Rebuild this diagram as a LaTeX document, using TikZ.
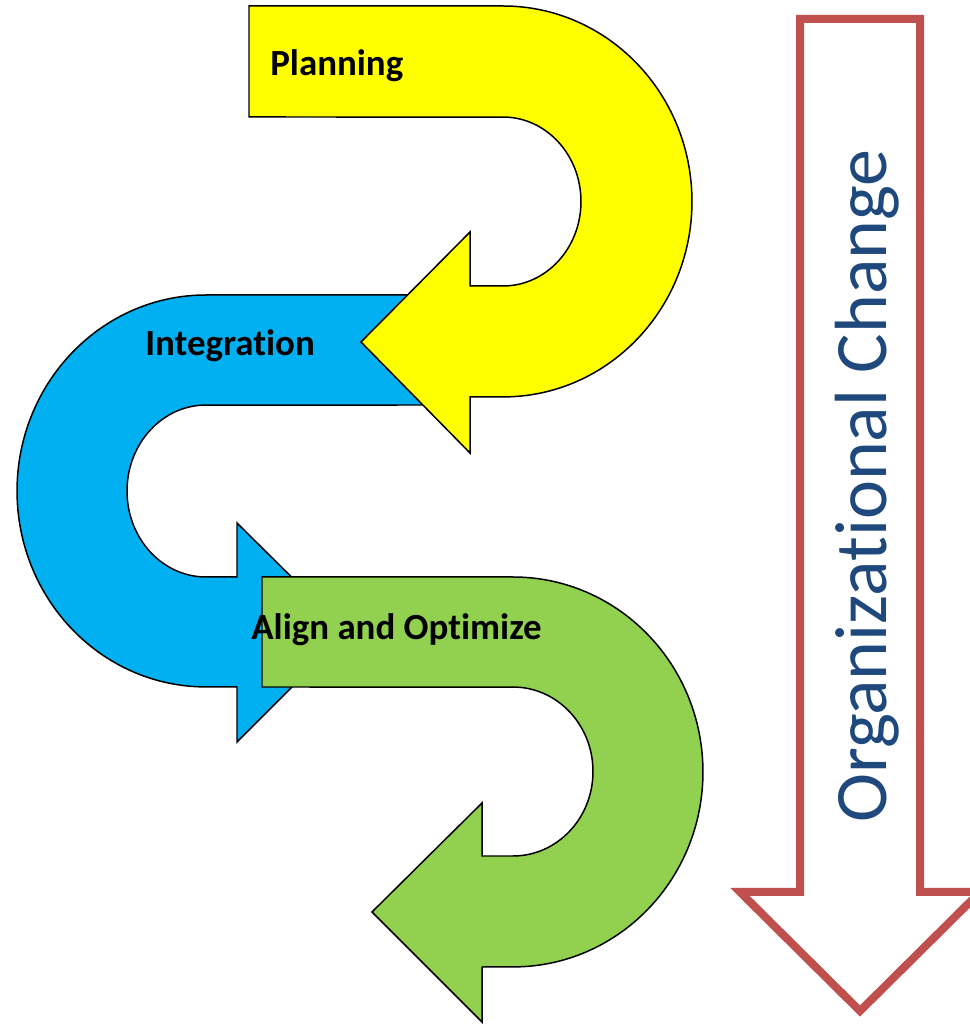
\documentclass[tikz,border=0pt]{standalone}
\usepackage{fontspec}
\setmainfont{Carlito}[Ligatures=NoCommon]
\definecolor{planyellow}{HTML}{FFFF00}
\definecolor{intblue}{HTML}{00B0F0}
\definecolor{aligngreen}{HTML}{92D050}
\definecolor{changered}{HTML}{C0504D}
\definecolor{changetext}{HTML}{1F497D}

\begin{document}
\begin{tikzpicture}[x=0.02cm, y=0.02cm,
  turn/.style = {draw=black, line width=0.85pt, line join=miter},
  turntext/.style = {font=\bfseries\fontsize{21}{25}\selectfont, inner sep=0pt, anchor=base west}]
\useasboundingbox (0,0) rectangle (970,1025);
\clip (0,0) rectangle (970,1025);

% middle u-turn (lies under the other two)
\filldraw[turn, fill=intblue] (465,730) -- (206,730)
  arc[start angle=90, end angle=270, x radius=3.78cm, y radius=3.92cm]
  -- (237,338) -- (237,283) -- (347,393) -- (237,502) -- (237,448) -- (206,448)
  arc[start angle=270, end angle=90, x radius=1.58cm, y radius=1.72cm]
  -- (465,620) -- cycle;

% top u-turn
\filldraw[turn, fill=planyellow] (249,1019) -- (503,1019)
  arc[start angle=90, end angle=-90, x radius=3.78cm, y radius=3.91cm]
  -- (470,628) -- (470,572) -- (361,683) -- (470,793) -- (470,739) -- (503,739)
  arc[start angle=-90, end angle=90, x radius=1.56cm, y radius=1.69cm]
  -- (249,908) -- cycle;

% bottom u-turn
\filldraw[turn, fill=aligngreen] (262,448) -- (513,448)
  arc[start angle=90, end angle=-90, x radius=3.8cm, y radius=3.9cm]
  -- (482,58) -- (482,3) -- (372,113) -- (482,222) -- (482,169) -- (513,169)
  arc[start angle=-90, end angle=90, x radius=1.6cm, y radius=1.69cm]
  -- (262,338) -- cycle;

\node[turntext] (planning) at (270,949) {Planning};
\node[turntext] (integration) at (145,669) {Integration};
\node[turntext] (align) at (251,385) {Align and Optimize};

% big arrow on the right
\filldraw[draw=changered, fill=white, line width=0.16cm, line join=miter]
  (800,1006) -- (920,1006) -- (920,133) -- (980,133) -- (860,14) -- (740,133) -- (800,133) -- cycle;
\node[font=\fontsize{42.1}{48}\selectfont, text=changetext, rotate=90, anchor=base, inner sep=0pt]
  (change) at (886,539) {Organizational Change};
\end{tikzpicture}
\end{document}
